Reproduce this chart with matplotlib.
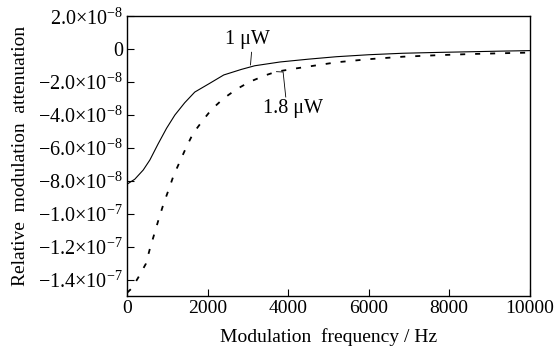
import numpy as np
import matplotlib
matplotlib.use('Agg')
import matplotlib.pyplot as plt

plt.rcParams['font.family'] = ['Liberation Serif', 'DejaVu Serif']
plt.rcParams['mathtext.fontset'] = 'custom'
plt.rcParams['mathtext.rm'] = 'Liberation Serif'
plt.rcParams['mathtext.it'] = 'Liberation Serif:italic'

# curve values (frequency in Hz, attenuation in units of 1e-8)
freq_1uw = [0, 190, 400, 565, 770, 980, 1185, 1430, 1680, 2050, 2400, 2840, 3170,
            3800, 4500, 5200, 6000, 6850, 7700, 8500, 9300, 10000]
att_1uw = [-8.2, -7.9, -7.34, -6.73, -5.75, -4.8, -4.0, -3.25, -2.6, -2.07, -1.56, -1.22,
           -1.0, -0.77, -0.6, -0.45, -0.33, -0.24, -0.19, -0.15, -0.11, -0.08]

freq_18uw = [0, 117, 278, 464, 564, 675, 782, 904, 1030, 1152, 1309, 1475, 1640, 1887,
             2100, 2400, 2716, 3047, 3460, 3710, 4200, 5200, 6000, 6850, 7700, 8500,
             9300, 10000]
att_18uw = [-14.8, -14.53, -13.87, -13.05, -12.14, -11.23, -10.35, -9.4, -8.55, -7.69,
            -6.83, -5.92, -5.11, -4.3, -3.65, -2.98, -2.43, -1.97, -1.56, -1.36, -1.16,
            -0.79, -0.6, -0.45, -0.36, -0.29, -0.24, -0.2]

yticks = [2e-8, 0, -2e-8, -4e-8, -6e-8, -8e-8, -1.0e-7, -1.2e-7, -1.4e-7]
ytick_labels = ['2.0×10$^{-8}$', '0', '−2.0×10$^{-8}$', '−4.0×10$^{-8}$', '−6.0×10$^{-8}$',
                '−8.0×10$^{-8}$', '−1.0×10$^{-7}$', '−1.2×10$^{-7}$', '−1.4×10$^{-7}$']
xticks = [0, 2000, 4000, 6000, 8000, 10000]

fig = plt.figure(figsize=(5.6, 3.53), dpi=100)
ax = fig.add_axes([0.227, 0.1615, 0.719, 0.792])

ax.plot(freq_1uw, np.array(att_1uw) * 1e-8, color='black', linewidth=0.8)
ax.plot(freq_18uw, np.array(att_18uw) * 1e-8, color='black', linewidth=1.3,
        dashes=(2.8, 5.5))

# labels with leader lines
ax.text(2998, 0.57e-8, '1 μW', ha='center', va='center', fontsize=14.5)
ax.plot([3090, 3064], [-0.18e-8, -0.95e-8], color='black', linewidth=0.6)
ax.text(4117, -3.57e-8, '1.8 μW', ha='center', va='center', fontsize=14.5)
ax.plot([3710, 3874, 3940], [-1.36e-8, -1.38e-8, -2.9e-8], color='black', linewidth=0.6)

ax.set_xlim(0, 10000)
ax.set_ylim(-1.50e-7, 2e-8)
ax.set_xticks(xticks)
ax.set_xticklabels([str(x) for x in xticks])
ax.set_yticks(yticks)
ax.set_yticklabels(ytick_labels)
ax.tick_params(direction='in', length=5, width=0.8, labelsize=14, pad=3)
ax.tick_params(axis='y', labelsize=14.5)
for s in ax.spines.values():
    s.set_linewidth(1.0)

ax.set_xlabel('Modulation  frequency / Hz', fontsize=14, labelpad=8)
ax.set_ylabel('Relative  modulation  attenuation', fontsize=14)
ax.yaxis.set_label_coords(-0.244, 0.5)

plt.savefig('out.png', dpi=100)
